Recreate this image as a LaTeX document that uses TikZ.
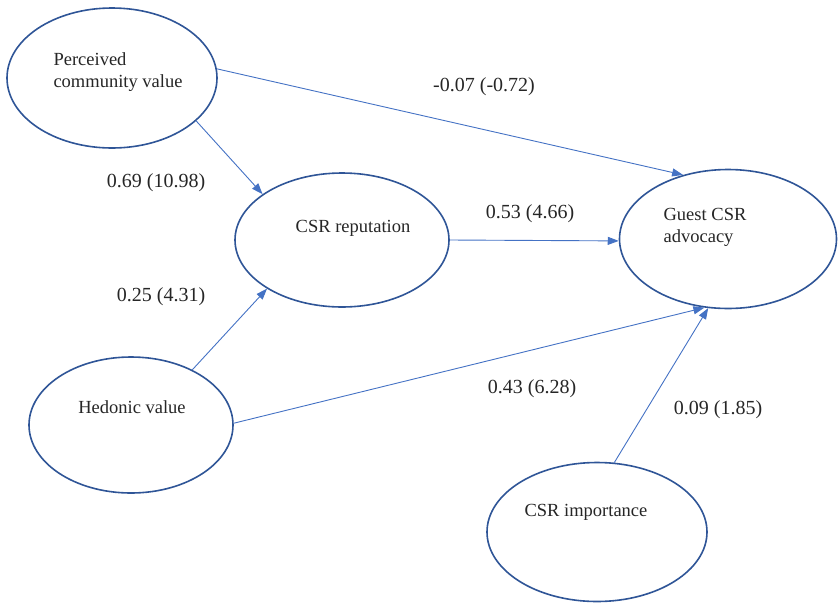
\documentclass[tikz,border=0pt]{standalone}
\usepackage{fontspec}
\setmainfont{Liberation Serif}
\usetikzlibrary{arrows.meta, shapes.geometric}

\definecolor{ovalblue}{HTML}{2F5597}
\definecolor{pathblue}{HTML}{4472C4}
\definecolor{inktext}{HTML}{262626}

\begin{document}
\begin{tikzpicture}[
  x=1pt, y=-1pt,
  >={Triangle[length=11pt, width=8pt]},
  construct/.style={ellipse, draw=ovalblue, line width=1.6pt, fill=white, inner sep=0pt},
  conlabel/.style={align=left, text=inktext, font=\fontsize{18.5}{22}\selectfont},
  coeflabel/.style={text=inktext, font=\fontsize{20}{24}\selectfont, inner sep=0pt},
  pathline/.style={->, draw=pathblue, line width=0.9pt}
]
\useasboundingbox (0,0) rectangle (838,603);

% Constructs
\node[construct, minimum width=210pt, minimum height=140pt] (pcv) at (112,78) {};
\node[construct, minimum width=214pt, minimum height=134pt] (rep) at (342,240) {};
\node[construct, minimum width=217pt, minimum height=139pt] (gca) at (728,239) {};
\node[construct, minimum width=204pt, minimum height=136pt] (hed) at (131,425) {};
\node[construct, minimum width=220pt, minimum height=139pt] (imp) at (597,532) {};

\node[conlabel] (pcv_t) at (118,72) {Perceived\\community value};
\node[conlabel] (rep_t) at (353,228) {CSR reputation};
\node[conlabel] (gca_t) at (705,227) {Guest CSR\\advocacy};
\node[conlabel] (hed_t) at (132,407) {Hedonic value};
\node[conlabel] (imp_t) at (586,512) {CSR importance};

% Structural paths
\draw[pathline] (pcv.5) -- (gca.125);
\draw[pathline] (pcv.-27) -- (rep.150);
\draw[pathline] (rep.east) -- (gca.181);
\draw[pathline] (hed.42) -- (rep.213);
\draw[pathline] (hed.1) -- (gca.251);
\draw[pathline] (imp.76) -- (gca.254);

% Coefficients (t-values)
\node[coeflabel] (c_pcv_gca) at (484,87) {-0.07 (-0.72)};
\node[coeflabel] (c_pcv_rep) at (156,183) {0.69 (10.98)};
\node[coeflabel] (c_rep_gca) at (530,214) {0.53 (4.66)};
\node[coeflabel] (c_hed_rep) at (161,297) {0.25 (4.31)};
\node[coeflabel] (c_hed_gca) at (532,389) {0.43 (6.28)};
\node[coeflabel] (c_imp_gca) at (718,410) {0.09 (1.85)};

\end{tikzpicture}
\end{document}
